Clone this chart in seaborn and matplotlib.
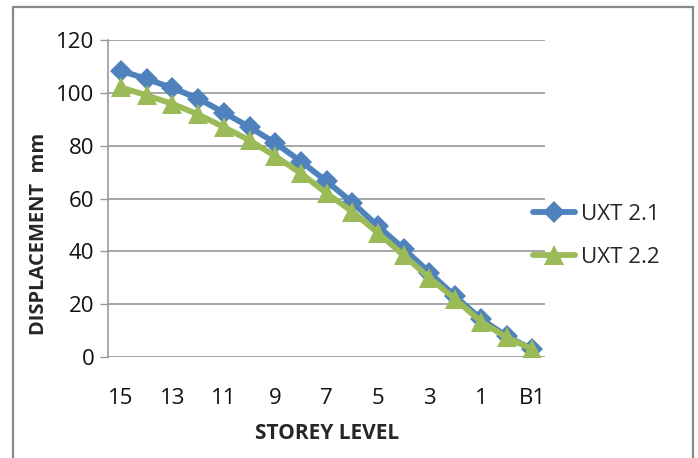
import pandas as pd
import seaborn as sns
import matplotlib.pyplot as plt
from matplotlib.patches import Rectangle

levels = ['15', '14', '13', '12', '11', '10', '9', '8', '7', '6', '5', '4', '3', '2', '1', 'G', 'B1']
uxt21 = [108.3, 105.2, 101.8, 97.8, 92.5, 87.0, 81.0, 74.0, 66.5, 58.5, 49.5, 41.0, 32.0, 23.0, 14.5, 8.0, 3.0]
uxt22 = [102.0, 99.0, 95.8, 91.8, 87.0, 82.0, 76.0, 69.5, 62.0, 55.0, 47.0, 38.5, 30.0, 22.0, 13.5, 7.5, 3.0]

df = pd.DataFrame({
    'pos': list(range(len(levels))) * 2,
    'disp': uxt21 + uxt22,
    'series': ['UXT 2.1'] * len(levels) + ['UXT 2.2'] * len(levels),
})

sns.set_style('white')
plt.rcParams['font.family'] = ['Open Sans', 'DejaVu Sans']

fig = plt.figure(figsize=(6.98, 4.58), dpi=100)
ax = fig.add_axes([0.155, 0.22, 0.626, 0.693])

colors = {'UXT 2.1': '#4F81BD', 'UXT 2.2': '#9BBB59'}
ax = sns.lineplot(data=df, x='pos', y='disp', hue='series', style='series',
                  palette=colors, markers={'UXT 2.1': 'D', 'UXT 2.2': '^'},
                  dashes=False, linewidth=4.2, markersize=11, markeredgewidth=0,
                  ax=ax)
for line in ax.lines:
    if line.get_marker() == '^':
        line.set_markersize(14)

ax.set_xlim(-0.5, len(levels) - 0.5)
ax.set_ylim(0, 120)
ax.set_yticks(range(0, 121, 20))
ax.set_xticks(range(0, len(levels), 2))
ax.set_xticklabels(levels[::2])
ax.tick_params(axis='both', labelsize=16, colors='#111111')
ax.tick_params(axis='y', length=6, width=1, color='#999999', left=True, direction='out', pad=4)
ax.tick_params(axis='x', length=0, pad=22)
ax.yaxis.grid(True, color='#A6A6A6', linewidth=1.4)
ax.set_axisbelow(True)
for s in ['top', 'right', 'bottom']:
    ax.spines[s].set_visible(False)
ax.spines['left'].set_color('#999999')
ax.spines['left'].set_linewidth(1.2)

ax.set_xlabel('STOREY LEVEL', fontsize=15, fontweight='bold', labelpad=10)
ax.set_ylabel('DISPLACEMENT  mm', fontsize=14.5, fontweight='bold')
ax.yaxis.set_label_coords(-0.135, 0.39)

handles, labels = ax.get_legend_handles_labels()
ax.get_legend().remove()
fig.legend(handles, labels, loc='center left', bbox_to_anchor=(0.735, 0.485),
           frameon=False, fontsize=16, handlelength=1.9, handletextpad=0.25,
           labelspacing=1.0)

fig.add_artist(Rectangle((0.0186, -0.02), 0.974, 1.005, transform=fig.transFigure,
                         fill=False, edgecolor='#888888', linewidth=1.6))

fig.savefig('out.png', dpi=100)
